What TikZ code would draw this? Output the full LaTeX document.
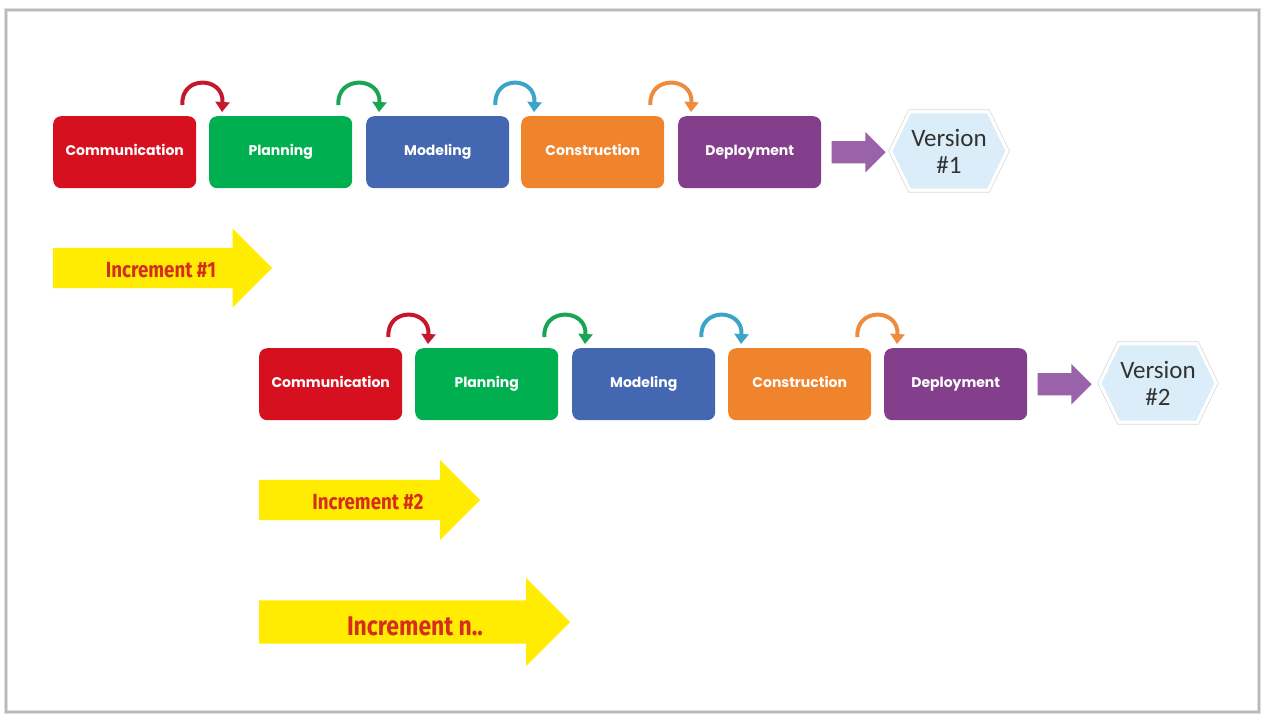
\documentclass[tikz,border=0pt]{standalone}
\usepackage{fontspec}
\usetikzlibrary{shapes.arrows,arrows.meta,backgrounds}
\newfontfamily\boxfont{Poppins}
\newfontfamily\verfont{Carlito}
\newfontfamily\incfont[FakeStretch=0.85]{Fira Sans}

\definecolor{cRed}{RGB}{215,16,31}
\definecolor{cGreen}{RGB}{0,176,80}
\definecolor{cBlue}{RGB}{68,103,177}
\definecolor{cOrange}{RGB}{240,132,44}
\definecolor{cPurple}{RGB}{132,63,140}
\definecolor{lRed}{RGB}{196,24,44}
\definecolor{lGreen}{RGB}{26,165,86}
\definecolor{lTeal}{RGB}{59,165,201}
\definecolor{lOrange}{RGB}{239,139,61}
\definecolor{cArrow}{RGB}{154,98,168}
\definecolor{cYellow}{RGB}{255,236,0}
\definecolor{cIncText}{RGB}{214,46,30}
\definecolor{cHex}{RGB}{218,237,248}
\definecolor{cVer}{RGB}{50,50,50}

\begin{document}
\begin{tikzpicture}[x=1pt,y=-1pt,
  phase/.style={rounded corners=8pt, minimum width=143pt, minimum height=72pt,
    inner sep=0pt, anchor=north west, text=white, text height=10pt, text depth=3pt,
    font=\boxfont\bfseries\fontsize{14}{16}\selectfont},
  loopc/.style={draw=#1, line width=4pt, -{Triangle[width=14pt,length=10pt]}},
  outarrow/.style={single arrow, fill=cArrow, inner sep=0pt, text width=0pt,
    text height=11pt, text depth=11pt, single arrow head extend=9pt,
    minimum height=54pt, anchor=tail},
  incarrow/.style={single arrow, fill=cYellow, inner sep=0pt, text width=0pt,
    single arrow head extend=#1, anchor=tail},
  inctext/.style={text=cIncText, font=\incfont\bfseries\fontsize{22}{24}\selectfont},
  vertext/.style={minimum width=116pt, minimum height=78pt, inner sep=0pt,
    align=center, text=cVer, font=\verfont\fontsize{25}{27}\selectfont},
  hexshape/.style={fill=cHex, draw=white, line width=3pt},
  hexrim/.style={draw=gray!30, line width=1pt}
]
\useasboundingbox (0,0) rectangle (1265,716);

% page frame
\draw[gray!25, line width=4pt] (6,10) rectangle (1259,712);
\draw[gray!55, line width=1.2pt] (6,10) rectangle (1259,712);

% ---- first increment ----
\node[phase, fill=cRed]    (c1) at (53,116)  {Communication};
\node[phase, fill=cGreen]  (p1) at (209,116) {Planning};
\node[phase, fill=cBlue]   (m1) at (366,116) {Modeling};
\node[phase, fill=cOrange] (k1) at (521,116) {Construction};
\node[phase, fill=cPurple] (d1) at (678,116) {Deployment};

\draw[loopc=lRed]    ([xshift=-14pt,yshift=11pt]c1.north east) .. controls +(-2,-30) and +(2,-36) .. ([xshift=13pt,yshift=4pt]p1.north west);
\draw[loopc=lGreen]  ([xshift=-14pt,yshift=11pt]p1.north east) .. controls +(-2,-30) and +(2,-36) .. ([xshift=13pt,yshift=4pt]m1.north west);
\draw[loopc=lTeal]   ([xshift=-14pt,yshift=11pt]m1.north east) .. controls +(-2,-30) and +(2,-36) .. ([xshift=13pt,yshift=4pt]k1.north west);
\draw[loopc=lOrange] ([xshift=-14pt,yshift=11pt]k1.north east) .. controls +(-2,-30) and +(2,-36) .. ([xshift=13pt,yshift=4pt]d1.north west);

\node[outarrow] (o1) at ([xshift=10pt]d1.east) {};

\node[vertext] (v1) at (949,151) {Version\\\#1};
\begin{scope}[on background layer]
  \draw[hexrim] ([xshift=-2pt]v1.west) -- ([xshift=18pt,yshift=2pt]v1.north west) -- ([xshift=-18pt,yshift=2pt]v1.north east) -- ([xshift=2pt]v1.east) -- ([xshift=-18pt,yshift=-2pt]v1.south east) -- ([xshift=18pt,yshift=-2pt]v1.south west) -- cycle;
  \draw[hexshape] (v1.west) -- ([xshift=19pt]v1.north west) -- ([xshift=-19pt]v1.north east) -- (v1.east) -- ([xshift=-19pt]v1.south east) -- ([xshift=19pt]v1.south west) -- cycle;
\end{scope}

\node[incarrow=19.5pt, minimum height=219pt, text height=20pt, text depth=20pt] (i1) at (53,268) {};
\node[inctext] (i1t) at (161,270) {Increment \#1};

% ---- second increment ----
\node[phase, fill=cRed]    (c2) at (259,348) {Communication};
\node[phase, fill=cGreen]  (p2) at (415,348) {Planning};
\node[phase, fill=cBlue]   (m2) at (572,348) {Modeling};
\node[phase, fill=cOrange] (k2) at (728,348) {Construction};
\node[phase, fill=cPurple] (d2) at (884,348) {Deployment};

\draw[loopc=lRed]    ([xshift=-14pt,yshift=11pt]c2.north east) .. controls +(-2,-30) and +(2,-36) .. ([xshift=13pt,yshift=4pt]p2.north west);
\draw[loopc=lGreen]  ([xshift=-14pt,yshift=11pt]p2.north east) .. controls +(-2,-30) and +(2,-36) .. ([xshift=13pt,yshift=4pt]m2.north west);
\draw[loopc=lTeal]   ([xshift=-14pt,yshift=11pt]m2.north east) .. controls +(-2,-30) and +(2,-36) .. ([xshift=13pt,yshift=4pt]k2.north west);
\draw[loopc=lOrange] ([xshift=-14pt,yshift=11pt]k2.north east) .. controls +(-2,-30) and +(2,-36) .. ([xshift=13pt,yshift=4pt]d2.north west);

\node[outarrow] (o2) at ([xshift=10pt]d2.east) {};

\node[vertext] (v2) at (1158,383) {Version\\\#2};
\begin{scope}[on background layer]
  \draw[hexrim] ([xshift=-2pt]v2.west) -- ([xshift=18pt,yshift=2pt]v2.north west) -- ([xshift=-18pt,yshift=2pt]v2.north east) -- ([xshift=2pt]v2.east) -- ([xshift=-18pt,yshift=-2pt]v2.south east) -- ([xshift=18pt,yshift=-2pt]v2.south west) -- cycle;
  \draw[hexshape] (v2.west) -- ([xshift=19pt]v2.north west) -- ([xshift=-19pt]v2.north east) -- (v2.east) -- ([xshift=-19pt]v2.south east) -- ([xshift=19pt]v2.south west) -- cycle;
\end{scope}

\node[incarrow=20pt, minimum height=221pt, text height=20pt, text depth=20pt] (i2) at (259,500) {};
\node[inctext] (i2t) at (368,502) {Increment \#2};

% ---- increment n ----
\node[incarrow=22.5pt, minimum height=311pt, text height=21.5pt, text depth=21.5pt] (in) at (259,622) {};
\node[inctext, font=\incfont\bfseries\fontsize{27}{29}\selectfont] (int) at (415,626) {Increment n..};
\end{tikzpicture}
\end{document}
